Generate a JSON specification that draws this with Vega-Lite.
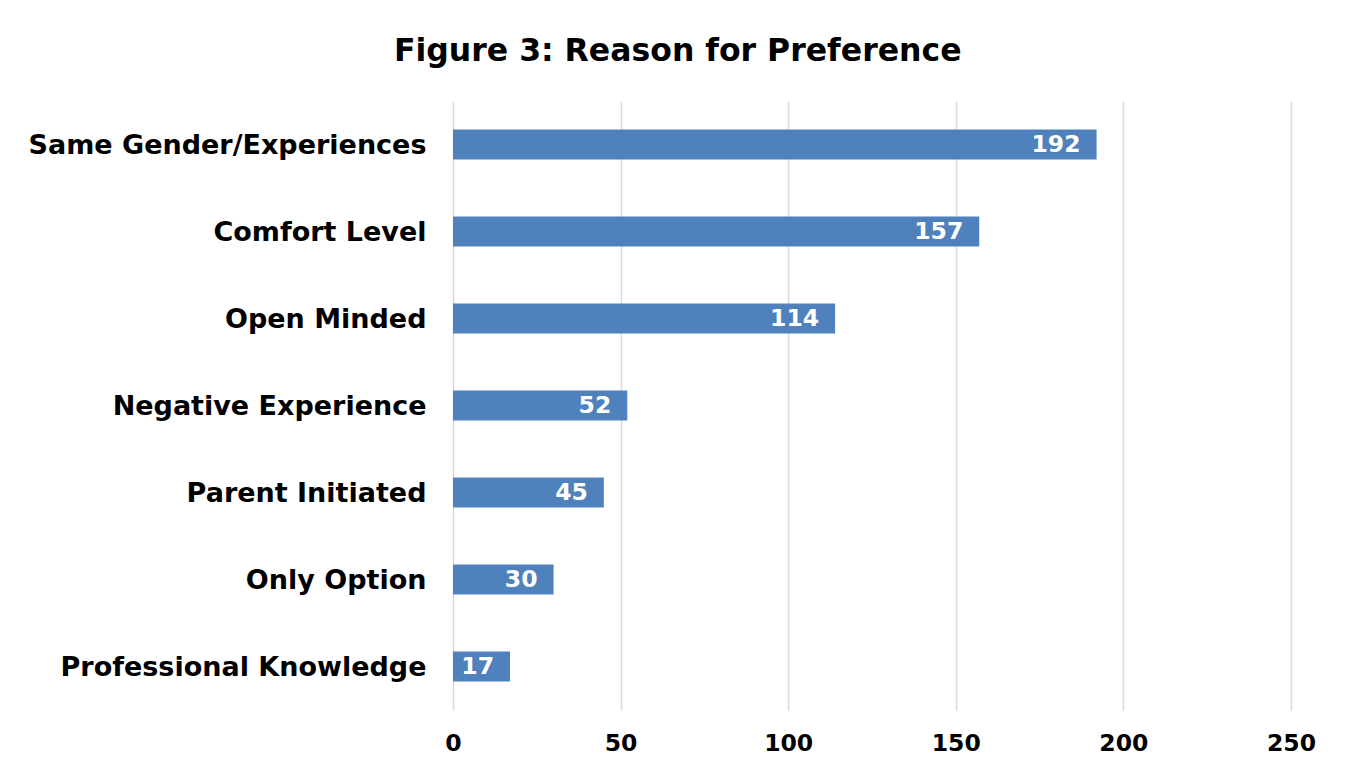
{
  "$schema": "https://vega.github.io/schema/vega-lite/v6.json",
  "autosize": {"type": "none"},
  "width": 838,
  "height": 609,
  "padding": {"left": 453, "top": 101, "right": 60, "bottom": 56},
  "background": "white",
  "title": {
    "text": "Figure 3: Reason for Preference",
    "anchor": "middle",
    "frame": "bounds",
    "font": "DejaVu Sans",
    "fontSize": 31.5,
    "fontWeight": "bold",
    "color": "black",
    "baseline": "bottom",
    "offset": 2,
    "dx": 6
  },
  "data": {
    "values": [
      {"reason": "Same Gender/Experiences", "count": 192},
      {"reason": "Comfort Level", "count": 157},
      {"reason": "Open Minded", "count": 114},
      {"reason": "Negative Experience", "count": 52},
      {"reason": "Parent Initiated", "count": 45},
      {"reason": "Only Option", "count": 30},
      {"reason": "Professional Knowledge", "count": 17}
    ]
  },
  "encoding": {
    "y": {
      "field": "reason",
      "type": "nominal",
      "sort": null,
      "scale": {"paddingInner": 0.655, "paddingOuter": 0.3275},
      "axis": {
        "title": null,
        "ticks": false,
        "domain": false,
        "labelFont": "DejaVu Sans",
        "labelFontSize": 27,
        "labelFontWeight": "bold",
        "labelColor": "black",
        "labelPadding": 27,
        "labelLimit": 600,
        "labelOffset": 1
      }
    },
    "x": {
      "field": "count",
      "type": "quantitative",
      "scale": {"domain": [0, 250]},
      "axis": {
        "title": null,
        "values": [0, 50, 100, 150, 200, 250],
        "ticks": false,
        "domain": false,
        "grid": true,
        "gridColor": "#d9d9d9",
        "gridWidth": 1.5,
        "labelFlush": false,
        "labelFont": "DejaVu Sans",
        "labelFontSize": 23.5,
        "labelFontWeight": "bold",
        "labelColor": "black",
        "labelPadding": 21
      }
    }
  },
  "layer": [
    {"mark": {"type": "bar", "color": "#4f81bd"}},
    {
      "mark": {
        "type": "text",
        "align": "right",
        "baseline": "middle",
        "dx": -16,
        "font": "DejaVu Sans",
        "fontSize": 23.5,
        "fontWeight": "bold",
        "color": "white"
      },
      "encoding": {"text": {"field": "count", "type": "quantitative"}}
    }
  ],
  "config": {"view": {"stroke": null}}
}
